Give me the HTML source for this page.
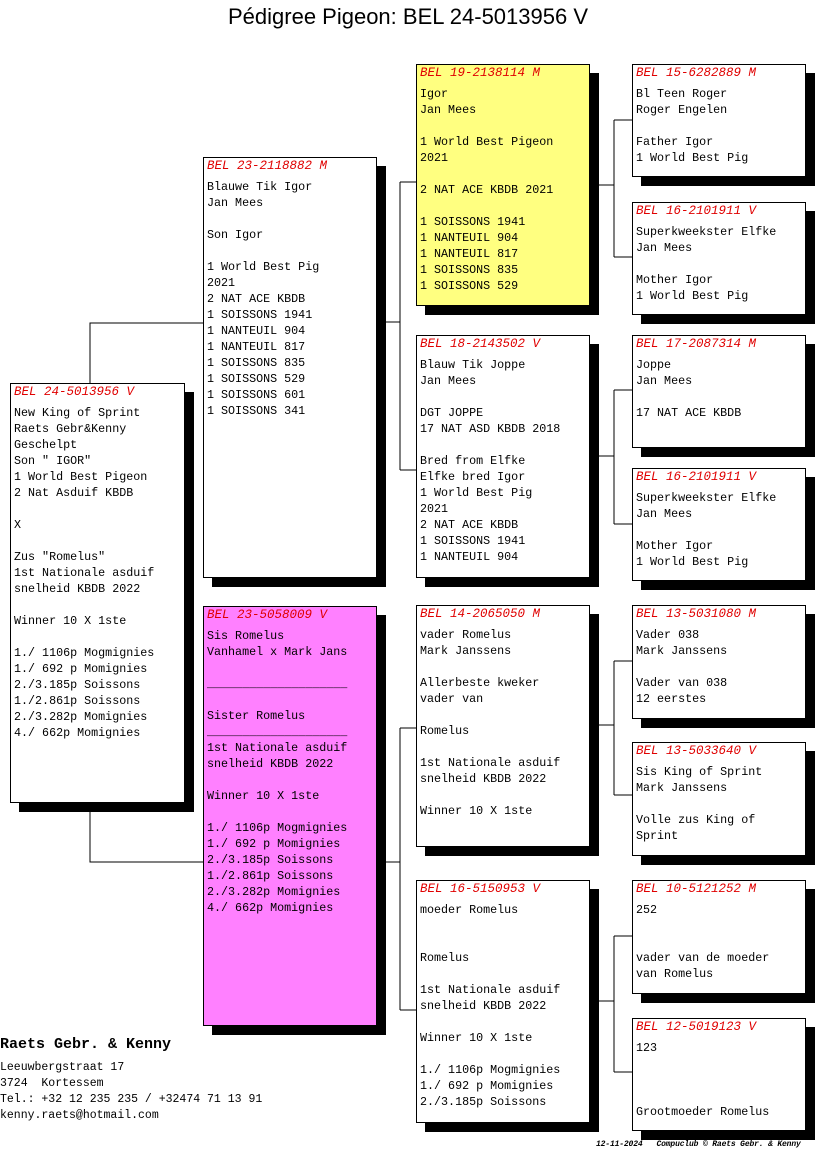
<!DOCTYPE html>
<html><head><meta charset="utf-8"><style>
body{margin:0;width:816px;height:1172px;background:#fff;position:relative;overflow:hidden;font-family:"Liberation Mono",monospace}
.t{position:absolute;left:0;width:816px;top:4px;text-align:center;font-family:"Liberation Sans",sans-serif;font-size:22px}
.b{position:absolute;border:1px solid #000;background:#fff;box-shadow:9px 9px 0 #000;font-size:11.7px;line-height:16px;white-space:pre;padding:0 0 0 3px;box-sizing:border-box;overflow:hidden}
.h{color:#e00000;font-style:italic;font-size:12.5px;height:14px;line-height:14px;margin:1px 0 6px 0}
svg{position:absolute;left:0;top:0}
.f{position:absolute;left:0;font-size:11.5px;line-height:16px;white-space:pre}
</style></head><body>
<div class="t">Pédigree Pigeon: BEL 24-5013956 V</div>
<svg width="816" height="1172"><g stroke="#000" stroke-width="1" fill="none">
<path d="M90 383V323H203M90 802V862H203"/>
<path d="M376 322H400M400 182V470M400 182H416M400 470H416"/>
<path d="M376 862H400M400 728V1010M400 728H416M400 1010H416"/>
<path d="M589 185H614M614 120V257M614 120H632M614 257H632"/>
<path d="M589 456H614M614 390V524M614 390H632M614 524H632"/>
<path d="M589 725H614M614 661V795M614 661H632M614 795H632"/>
<path d="M589 1001H614M614 936V1072M614 936H632M614 1072H632"/>
</g></svg>
<div class="b" style="left:10px;top:383px;width:175px;height:420px"><div class="h">BEL 24-5013956 V</div>New King of Sprint
Raets Gebr&amp;Kenny
Geschelpt
Son " IGOR"
1 World Best Pigeon
2 Nat Asduif KBDB

X

Zus "Romelus"
1st Nationale asduif
snelheid KBDB 2022

Winner 10 X 1ste

1./ 1106p Mogmignies
1./ 692 p Momignies
2./3.185p Soissons
1./2.861p Soissons
2./3.282p Momignies
4./ 662p Momignies</div>
<div class="b" style="left:203px;top:157px;width:174px;height:421px"><div class="h">BEL 23-2118882 M</div>Blauwe Tik Igor
Jan Mees

Son Igor

1 World Best Pig
2021
2 NAT ACE KBDB
1 SOISSONS 1941
1 NANTEUIL 904
1 NANTEUIL 817
1 SOISSONS 835
1 SOISSONS 529
1 SOISSONS 601
1 SOISSONS 341</div>
<div class="b" style="left:203px;top:606px;width:174px;height:420px;background:#ff80ff"><div class="h">BEL 23-5058009 V</div>Sis Romelus
Vanhamel x Mark Jans

____________________

Sister Romelus
____________________
1st Nationale asduif
snelheid KBDB 2022

Winner 10 X 1ste

1./ 1106p Mogmignies
1./ 692 p Momignies
2./3.185p Soissons
1./2.861p Soissons
2./3.282p Momignies
4./ 662p Momignies</div>
<div class="b" style="left:416px;top:64px;width:174px;height:242px;background:#ffff80"><div class="h">BEL 19-2138114 M</div>Igor
Jan Mees

1 World Best Pigeon
2021

2 NAT ACE KBDB 2021

1 SOISSONS 1941
1 NANTEUIL 904
1 NANTEUIL 817
1 SOISSONS 835
1 SOISSONS 529</div>
<div class="b" style="left:416px;top:335px;width:174px;height:243px"><div class="h">BEL 18-2143502 V</div>Blauw Tik Joppe
Jan Mees

DGT JOPPE
17 NAT ASD KBDB 2018

Bred from Elfke
Elfke bred Igor
1 World Best Pig
2021
2 NAT ACE KBDB
1 SOISSONS 1941
1 NANTEUIL 904</div>
<div class="b" style="left:416px;top:605px;width:174px;height:242px"><div class="h">BEL 14-2065050 M</div>vader Romelus
Mark Janssens

Allerbeste kweker
vader van

Romelus

1st Nationale asduif
snelheid KBDB 2022

Winner 10 X 1ste</div>
<div class="b" style="left:416px;top:880px;width:174px;height:243px"><div class="h">BEL 16-5150953 V</div>moeder Romelus


Romelus

1st Nationale asduif
snelheid KBDB 2022

Winner 10 X 1ste

1./ 1106p Mogmignies
1./ 692 p Momignies
2./3.185p Soissons</div>
<div class="b" style="left:632px;top:64px;width:174px;height:113px"><div class="h">BEL 15-6282889 M</div>Bl Teen Roger
Roger Engelen

Father Igor
1 World Best Pig</div>
<div class="b" style="left:632px;top:202px;width:174px;height:113px"><div class="h">BEL 16-2101911 V</div>Superkweekster Elfke
Jan Mees

Mother Igor
1 World Best Pig</div>
<div class="b" style="left:632px;top:335px;width:174px;height:113px"><div class="h">BEL 17-2087314 M</div>Joppe
Jan Mees

17 NAT ACE KBDB</div>
<div class="b" style="left:632px;top:468px;width:174px;height:113px"><div class="h">BEL 16-2101911 V</div>Superkweekster Elfke
Jan Mees

Mother Igor
1 World Best Pig</div>
<div class="b" style="left:632px;top:605px;width:174px;height:114px"><div class="h">BEL 13-5031080 M</div>Vader 038
Mark Janssens

Vader van 038
12 eerstes</div>
<div class="b" style="left:632px;top:742px;width:174px;height:114px"><div class="h">BEL 13-5033640 V</div>Sis King of Sprint
Mark Janssens

Volle zus King of
Sprint</div>
<div class="b" style="left:632px;top:880px;width:174px;height:114px"><div class="h">BEL 10-5121252 M</div>252


vader van de moeder
van Romelus</div>
<div class="b" style="left:632px;top:1018px;width:174px;height:113px"><div class="h">BEL 12-5019123 V</div>123



Grootmoeder Romelus</div>
<div class="f" style="top:1036px;font-weight:bold;font-size:15px;line-height:18px">Raets Gebr. &amp; Kenny</div>
<div class="f" style="top:1060px">Leeuwbergstraat 17
3724  Kortessem
Tel.: +32 12 235 235 / +32474 71 13 91
kenny.raets@hotmail.com</div>
<div class="f" style="top:1139px;left:596px;font-size:8px;letter-spacing:-0.15px;font-weight:bold;font-style:italic;line-height:12px">12-11-2024   Compuclub © Raets Gebr. &amp; Kenny</div>
</body></html>
